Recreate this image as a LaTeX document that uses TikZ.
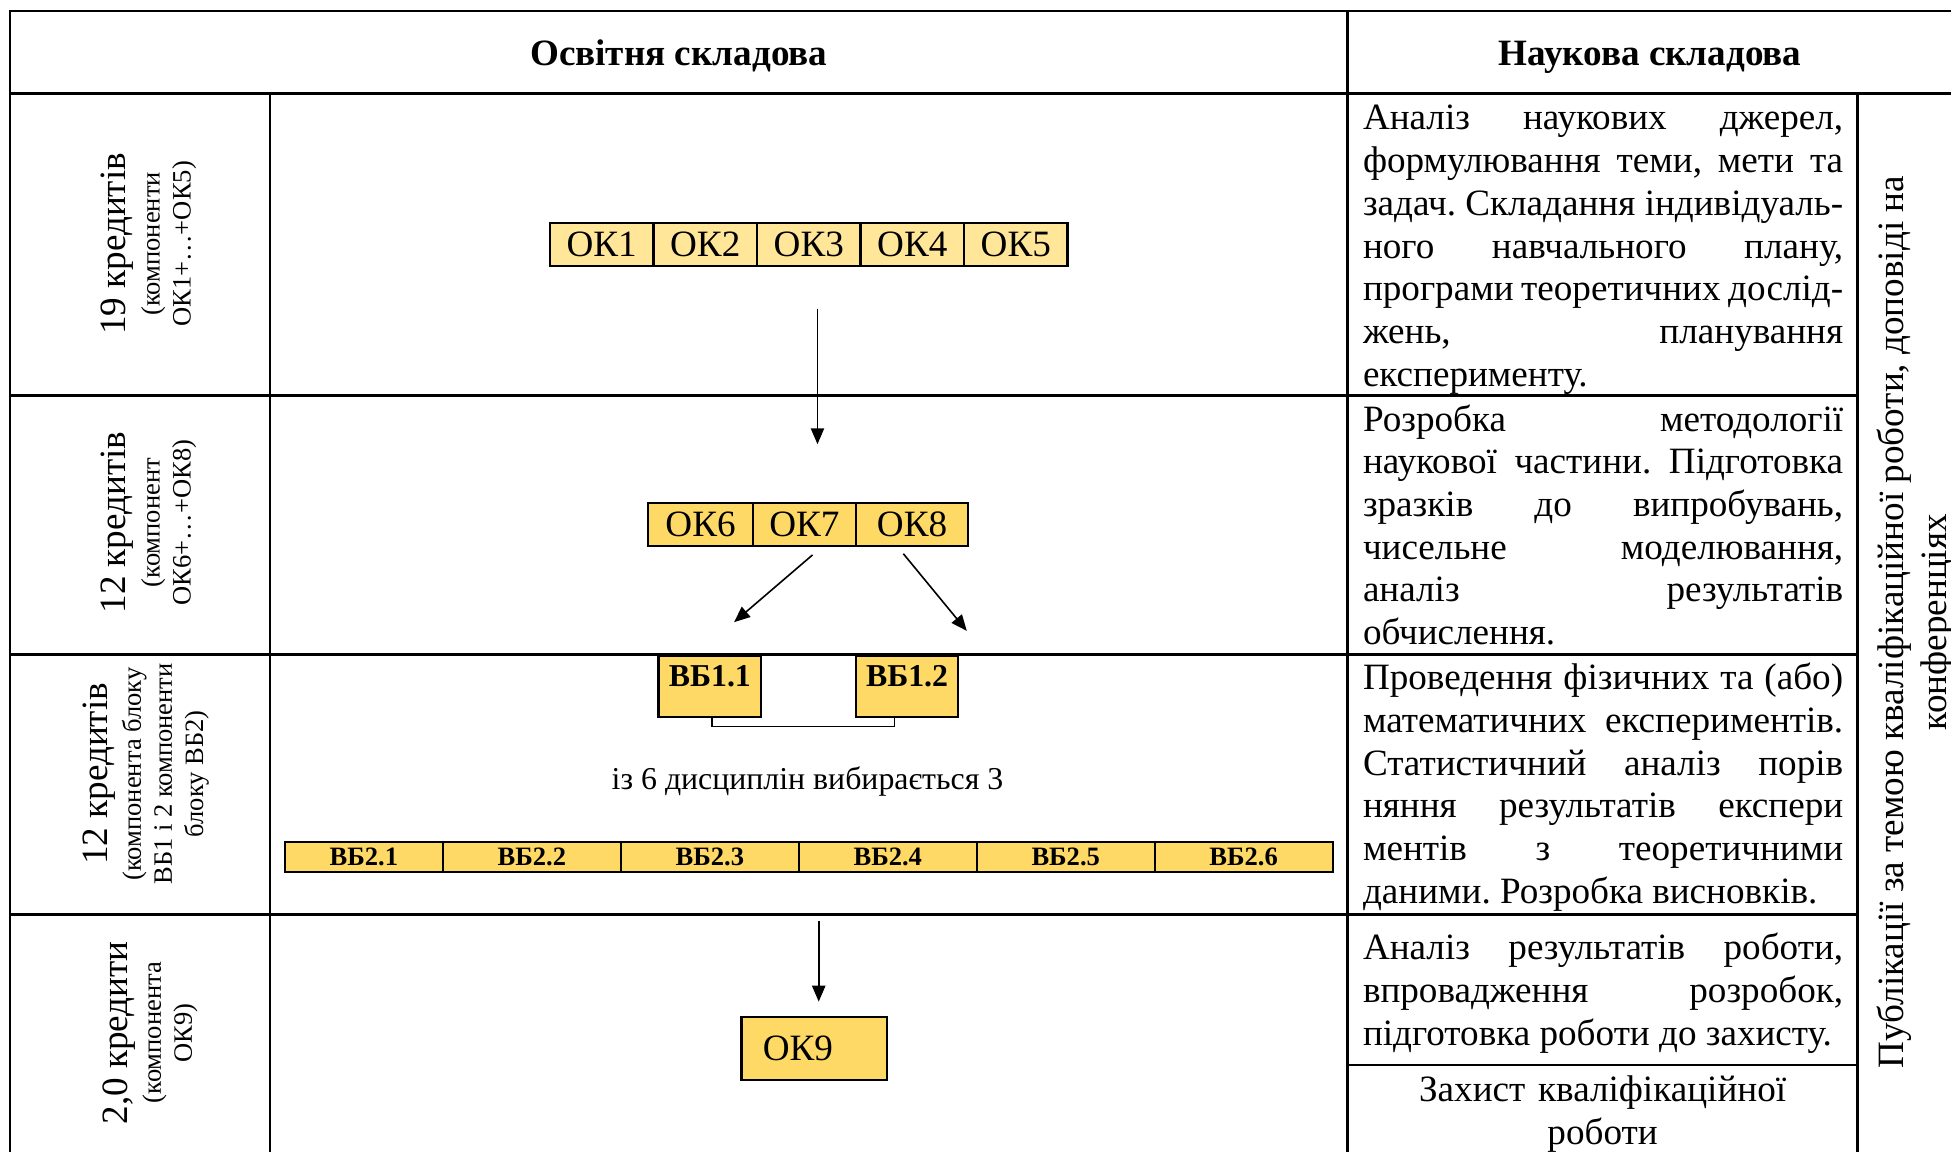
\documentclass[tikz,border=0pt]{standalone}
\usepackage{fontspec}
\setmainfont{Liberation Serif}
\usetikzlibrary{arrows.meta}
\definecolor{okpale}{HTML}{FFE699}
\definecolor{okgold}{HTML}{FFD966}
\newcommand\jl[1]{\makebox[181pt][s]{#1}}
\newcommand\mystrut{\spaceskip=0pt\xspaceskip=0pt\frenchspacing\vrule height 12pt depth 0pt width 0pt}
\begin{document}
\begin{tikzpicture}[x=0.469pt,y=-0.469pt,
 tline/.style={line width=0.9pt},
 cellbox/.style={draw, line width=0.8pt, inner sep=0pt, minimum height=16.4pt, font=\fontsize{14}{16}\selectfont},
 paleok/.style={cellbox, fill=okpale},
 goldok/.style={cellbox, fill=okgold},
 vbone/.style={draw, line width=0.8pt, fill=okgold, inner sep=0pt, minimum width=38.7pt, minimum height=23pt, text height=8pt, text depth=8pt, font=\fontsize{12}{14}\selectfont\bfseries},
 vbtwo/.style={draw, line width=0.8pt, fill=okgold, inner sep=0pt, minimum width=67.1pt, minimum height=11.3pt, font=\fontsize{10}{12}\selectfont\bfseries},
 arr/.style={-{Triangle[length=6pt,width=5pt]}, line width=0.6pt},
 sidelbl/.style={rotate=90, anchor=north, align=center, inner sep=0pt, font=\fontsize{10}{11.7}\selectfont},
 body/.style={anchor=north west, inner sep=0pt, text width=181pt, align=left, font=\fontsize{14}{16.1}\selectfont},
 head/.style={anchor=base, inner sep=0pt, font=\fontsize{14}{16}\selectfont\bfseries}
]
\useasboundingbox (0,0) rectangle (1568,926);
\fill[white] (0,0) rectangle (1568,926);

% table lines
\draw[tline] (1568,9) -- (8,9) -- (8,926);
\draw[tline] (8,75) -- (1568,75);
\draw[tline] (217,75) -- (217,926);
\draw[tline] (1083,9) -- (1083,926);
\draw[tline] (1493,75) -- (1493,926);
\foreach \yy in {318,526,735} \draw[tline] (8,\yy) -- (1493,\yy);
\draw[tline] (1083,856) -- (1493,856);

% headers
\node[head] (h1) at (545.5,53) {Освітня складова};
\node[head] (h2) at (1326,53) {Наукова складова};

% left column
\node[sidelbl] (l1) at (81,196) {{\fontsize{14}{16}\selectfont 19 кредитів}\\[1pt](компоненти\\ОК1+…+ОК5)};
\node[sidelbl] (l2) at (81,420) {{\fontsize{14}{16}\selectfont 12 кредитів}\\[1pt](компонент\\ОК6+…+ОК8)};
\node[sidelbl] (l3) at (66,622) {{\fontsize{14}{16}\selectfont 12 кредитів}\\[1pt](компонента блоку\\ВБ1 і 2 компоненти\\блоку ВБ2)};
\node[sidelbl] (l4) at (82,830) {{\fontsize{14}{16}\selectfont 2,0 кредити}\\[1pt](компонента\\ОК9)};

% row 1 boxes
\node[paleok, minimum width=39pt] (ok1) at (483.6,196.5) {ОК1};
\node[paleok, minimum width=39pt] (ok2) at (566.8,196.5) {ОК2};
\node[paleok, minimum width=39pt] (ok3) at (650,196.5) {ОК3};
\node[paleok, minimum width=39pt] (ok4) at (733.2,196.5) {ОК4};
\node[paleok, minimum width=39pt] (ok5) at (816.4,196.5) {ОК5};

% row 2 boxes
\node[goldok, minimum width=39.4pt] (ok6) at (563,421.5) {ОК6};
\node[goldok, minimum width=38.9pt] (ok7) at (646.5,421.5) {ОК7};
\node[goldok, minimum width=42.2pt] (ok8) at (733,421.5) {ОК8};

% arrows
\coordinate (a1s) at (657,248); \coordinate (a1e) at (657,357);
\coordinate (a2s) at (653,446); \coordinate (a2e) at (590,500);
\coordinate (a3s) at (726,445); \coordinate (a3e) at (777,507);
\coordinate (a4s) at (658,740); \coordinate (a4e) at (658,805);
\draw[arr] (a1s) -- (a1e);
\draw[arr] (a2s) -- (a2e);
\draw[arr] (a3s) -- (a3e);
\draw[arr] (a4s) -- (a4e);

% row 3
\node[vbone] (vb11) at (570.5,551.5) {ВБ1.1};
\node[vbone] (vb12) at (729,551.5) {ВБ1.2};
\coordinate (brl) at (572,576); \coordinate (brr) at (719,576);
\draw[line width=0.6pt] (brl) -- ++(0,8) -| (brr);
\node[inner sep=0pt, font=\fontsize{12}{14}\selectfont] (choose) at (649,628) {із 6 дисциплін вибирається 3};
\node[vbtwo, minimum width=59.6pt] (vb21) at (292.5,689) {ВБ2.1};
\node[vbtwo] (vb22) at (427.5,689) {ВБ2.2};
\node[vbtwo] (vb23) at (570.5,689) {ВБ2.3};
\node[vbtwo] (vb24) at (713.5,689) {ВБ2.4};
\node[vbtwo] (vb25) at (856.5,689) {ВБ2.5};
\node[vbtwo] (vb26) at (999.5,689) {ВБ2.6};

% row 4
\node[goldok, minimum height=23.9pt, text width=38.9pt, inner xsep=8pt, align=left] (ok9) at (654.5,842.5) {ОК9};

% right column texts
\node[body] (t1) at (1095,78.4) {\mystrut\jl{Аналіз наукових джерел,}\\
\jl{формулювання теми, мети та}\\
\jl{задач. Складання індивідуаль-}\\
\jl{ного навчального плану,}\\
\jl{програми теоретичних дослід-}\\
\jl{жень, планування}\\
експерименту.};
\node[body] (t2) at (1095,320.4) {\mystrut\jl{Розробка методології}\\
\jl{наукової частини. Підготовка}\\
\jl{зразків до випробувань,}\\
\jl{чисельне моделювання,}\\
\jl{аналіз результатів}\\
обчислення.};
\node[body] (t3) at (1095,528.4) {\mystrut\jl{Проведення фізичних та (або)}\\
\jl{математичних експериментів.}\\
\jl{Статистичний аналіз порів}\\
\jl{няння результатів експери}\\
\jl{ментів з теоретичними}\\
даними. Розробка висновків.};
\node[body] (t4) at (1095,745.4) {\mystrut\jl{Аналіз результатів роботи,}\\
\jl{впровадження розробок,}\\
підготовка роботи до захисту.};
\node[body, anchor=north, align=center] (t5) at (1288,859.4) {\mystrut Захист кваліфікаційної\\роботи};

% vertical right text
\node[rotate=90, anchor=north, align=center, inner sep=0pt, font=\fontsize{14}{16.1}\selectfont] (pub) at (1508,500) {Публікації за темою кваліфікаційної роботи, доповіді на\\конференціях};
\end{tikzpicture}
\end{document}
